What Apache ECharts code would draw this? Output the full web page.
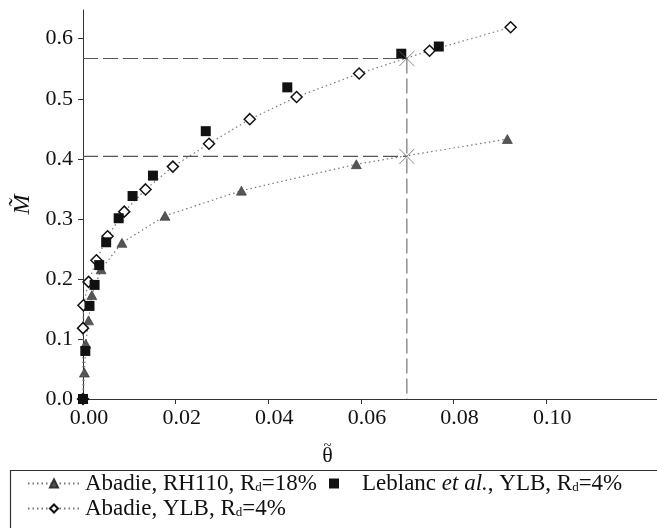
<!DOCTYPE html>
<html><head><meta charset="utf-8">
<script src="https://cdn.jsdelivr.net/npm/echarts@6/dist/echarts.min.js"></script>
<style>html,body{margin:0;padding:0;background:#fff}#c{width:657px;height:528px}</style>
</head><body><div id="c"></div>
<script>
// Abadie, RH110, Rd=18% (triangles)
const triX = [0, 0.0003, 0.0006, 0.0012, 0.0019, 0.0039, 0.0084, 0.0177, 0.0342, 0.0590, 0.0916];
const triY = [0, 0.044, 0.092, 0.131, 0.173, 0.216, 0.260, 0.305, 0.347, 0.391, 0.433];
// Leblanc et al., YLB, Rd=4% (squares)
const sqX = [0, 0.0005, 0.0014, 0.0025, 0.0035, 0.0050, 0.0077, 0.0107, 0.0151, 0.0265, 0.0441, 0.0687, 0.0768];
const sqY = [0, 0.080, 0.155, 0.190, 0.223, 0.261, 0.301, 0.338, 0.372, 0.446, 0.519, 0.575, 0.587];
// Abadie, YLB, Rd=4% (diamonds)
const diaX = [0, 0, 0.0001, 0.0012, 0.0029, 0.0053, 0.0089, 0.0135, 0.0194, 0.0272, 0.0360, 0.0461, 0.0596, 0.0748, 0.0923];
const diaY = [0, 0.118, 0.156, 0.195, 0.231, 0.271, 0.312, 0.349, 0.387, 0.425, 0.466, 0.503, 0.542, 0.580, 0.619];
// reference crosses
const crossX = [0.0699, 0.0699];
const crossY = [0.567, 0.404];
// ticks
const xTicks = [0, 0.02, 0.04, 0.06, 0.08, 0.10];
const yTicks = [0, 0.1, 0.2, 0.3, 0.4, 0.5, 0.6];

const names = ['Abadie, RH110, Rd=18%', 'Leblanc et al., YLB, Rd=4%', 'Abadie, YLB, Rd=4%'];
const richNames = {
  'Abadie, RH110, Rd=18%': 'Abadie, RH110, R{sub|d}=18%',
  'Leblanc et al., YLB, Rd=4%': '{gap|}Leblanc {it|et al.}, YLB, R{sub|d}=4%',
  'Abadie, YLB, Rd=4%': 'Abadie, YLB, R{sub|d}=4%'
};
const zip = (a, b) => a.map((v, i) => [v, b[i]]);
const FONT = '"Liberation Serif", "Times New Roman", serif';
const LFS = 23;
const rich = {
  sub: {fontFamily: FONT, fontSize: 13, lineHeight: 13, verticalAlign: 'bottom', color: '#111'},
  it: {fontFamily: FONT, fontSize: LFS, fontStyle: 'italic', color: '#111'},
  gap: {width: 18}
};
const legendText = {fontFamily: FONT, fontSize: LFS, lineHeight: 22, color: '#111', rich: rich};

const chart = echarts.init(document.getElementById('c'), null, {renderer: 'canvas'});
chart.setOption({
  animation: false,
  backgroundColor: '#fff',
  grid: {left: 83, top: 10, right: 0, bottom: 129, containLabel: false},
  xAxis: {
    type: 'value', min: 0, max: 0.1239,
    axisLine: {lineStyle: {color: '#333', width: 1}},
    axisTick: {length: 5, lineStyle: {color: '#333'}, customValues: xTicks},
    axisLabel: {customValues: xTicks, formatter: v => v.toFixed(2), fontFamily: FONT, fontSize: 22, color: '#111', margin: 8, padding: [0, 0, 0, 12]},
    splitLine: {show: false}
  },
  yAxis: {
    type: 'value', min: 0, max: 0.6478,
    name: 'M\u0303', nameLocation: 'middle', nameRotate: 90, nameGap: 44,
    nameTextStyle: {fontFamily: FONT, fontSize: 24, fontStyle: 'italic', color: '#111'},
    axisLine: {lineStyle: {color: '#333', width: 1}},
    axisTick: {length: 5, lineStyle: {color: '#333'}, customValues: yTicks},
    axisLabel: {customValues: yTicks, formatter: v => v.toFixed(1), fontFamily: FONT, fontSize: 22, color: '#111', margin: 10},
    splitLine: {show: false}
  },
  legend: [{
    data: [names[0]], left: 27, top: 472, padding: 0,
    itemWidth: 52, itemHeight: 10,
    formatter: n => richNames[n], textStyle: legendText
  }, {
    data: [names[2]], left: 27, top: 497, padding: 0,
    itemWidth: 52, itemHeight: 10,
    formatter: n => richNames[n], textStyle: legendText
  }, {
    data: [names[1]], left: 329, top: 472, padding: 0,
    itemWidth: 10, itemHeight: 10,
    formatter: n => richNames[n], textStyle: legendText
  }],
  graphic: [
    {type: 'rect', left: 8, top: 468, shape: {x: 0, y: 0, width: 700, height: 100}, style: {fill: 'none', stroke: '#333', lineWidth: 1.2}, silent: true},
    {type: 'text', x: 327.5, y: 456, style: {text: '\u03b8', fontFamily: FONT, fontSize: 22, fill: '#111', align: 'center', verticalAlign: 'middle'}},
    {type: 'text', x: 327.5, y: 446, style: {text: '~', fontFamily: FONT, fontSize: 15, fill: '#111', align: 'center', verticalAlign: 'middle'}}
  ],
  series: [
    {type: 'line', name: 'hTop', data: [[0, crossY[0]], [crossX[0], crossY[0]]], symbol: 'none', lineStyle: {color: '#555', width: 1.2, type: [15, 5]}, z: 1},
    {type: 'line', name: 'hBot', data: [[0, crossY[1]], [crossX[1], crossY[1]]], symbol: 'none', lineStyle: {color: '#555', width: 1.2, type: [15, 5]}, z: 1},
    {type: 'line', name: 'vLine', data: [[crossX[0], crossY[0]], [crossX[0], 0]], symbol: 'none', lineStyle: {color: '#888', width: 1.4, type: [15, 5]}, z: 1},
    {type: 'line', name: names[0], data: zip(triX, triY), symbol: 'triangle', symbolSize: [10, 9],
      lineStyle: {color: '#777', width: 1.2, type: [1.5, 3]}, itemStyle: {color: '#555', borderColor: '#333', borderWidth: 0.6}, z: 3},
    {type: 'line', name: names[2], data: zip(diaX, diaY), symbol: 'diamond', symbolSize: 11,
      lineStyle: {color: '#777', width: 1.2, type: [1.5, 3]}, itemStyle: {color: '#fff', borderColor: '#111', borderWidth: 1.5}, z: 4},
    {type: 'scatter', name: names[1], data: zip(sqX, sqY), symbol: 'rect', symbolSize: 10,
      itemStyle: {color: '#111', opacity: 1}, z: 5},
    {type: 'scatter', name: 'cross', data: zip(crossX, crossY), symbol: 'path://M0,0L10,10M10,0L0,10', symbolSize: 15,
      itemStyle: {color: 'rgba(0,0,0,0)', borderColor: '#666', borderWidth: 1}, z: 6}
  ]
});
</script></body></html>
